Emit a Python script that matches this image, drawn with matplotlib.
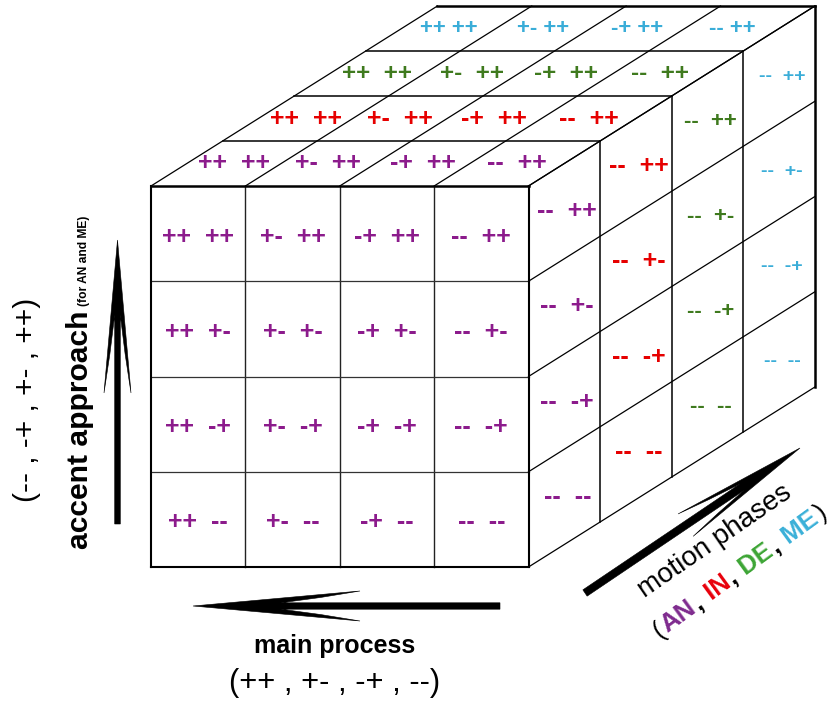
import numpy as np
import matplotlib
matplotlib.use("Agg")
import matplotlib.pyplot as plt
from matplotlib.patches import Polygon
from matplotlib.font_manager import FontProperties, fontManager

# ---------------- data ----------------
main_process = ["++", "+-", "-+", "--"]        # front-face columns, left -> right
accent_approach = ["++", "+-", "-+", "--"]     # rows, top -> bottom
phases = ["AN", "IN", "DE", "ME"]              # depth layers, front -> back
cell_colors = ["#8C1B8C", "#E60000", "#3F7A1E", "#3AADD8"]
label_colors = ["#7E2A8E", "#E8000B", "#3DA535", "#3AB0D8"]
main_ticks = "(++ , +- , -+ , --)"
accent_ticks = "(-- , -+ , +- , ++)"

BASE = ["Liberation Sans", "DejaVu Sans"]
plt.rcParams["font.family"] = BASE
names = {f.name for f in fontManager.ttflist}
NARROW = ["Liberation Sans Narrow", "DejaVu Sans"] if "Liberation Sans Narrow" in names else BASE

W, H = 835, 703
fig = plt.figure(figsize=(W / 100, H / 100), dpi=100)
ax = fig.add_axes([0, 0, 1, 1])
ax.set_xlim(0, W)
ax.set_ylim(H, 0)
ax.axis("off")
renderer = fig.canvas.get_renderer()

# ---------------- cube geometry ----------------
X0, X1, Y0, Y1 = 151.0, 528.5, 186.0, 567.0
DX, DY = 71.6, -45.0
ncol, nrow, nlay = len(main_process), len(accent_approach), len(phases)
cw = (X1 - X0) / ncol
ch = (Y1 - Y0) / nrow


def seg(p, q, lw=1.0, color="black"):
    ax.plot([p[0], q[0]], [p[1], q[1]], color=color, lw=lw,
            solid_capstyle="projecting", zorder=2)


# front face
for j in range(1, ncol):
    seg((X0 + j * cw, Y0), (X0 + j * cw, Y1), lw=1.0, color="#222222")
for i in range(1, nrow):
    seg((X0, Y0 + i * ch), (X1, Y0 + i * ch), lw=0.9, color="#333333")
seg((X0, Y0), (X1, Y0), lw=1.8)
seg((X0, Y1), (X1, Y1), lw=1.5)
seg((X0, Y0), (X0, Y1), lw=1.5)
seg((X1, Y0), (X1, Y1), lw=1.5)

# top face: layer boundaries and column diagonals
for k in range(1, nlay + 1):
    seg((X0 + k * DX, Y0 + k * DY), (X1 + k * DX, Y0 + k * DY), lw=1.8 if k == nlay else 1.1)
for j in range(ncol + 1):
    x = X0 + j * cw
    seg((x, Y0), (x + nlay * DX, Y0 + nlay * DY), lw=0.9)

# right face: layer boundaries and row diagonals
for k in range(1, nlay + 1):
    seg((X1 + k * DX, Y0 + k * DY), (X1 + k * DX, Y1 + k * DY), lw=1.8 if k == nlay else 1.1)
for i in range(nrow + 1):
    y = Y0 + i * ch
    seg((X1, y), (X1 + nlay * DX, y + nlay * DY), lw=0.9)


def cell_label(x, y, a, b, color, size, sep):
    ax.text(x, y, a + sep + b, color=color, fontsize=size, fontweight="bold",
            ha="center", va="center", zorder=3)


# front face labels (first phase)
for i, acc in enumerate(accent_approach):
    for j, m in enumerate(main_process):
        cell_label(X0 + (j + 0.5) * cw, Y0 + (i + 0.5) * ch + 3, m, acc,
                   cell_colors[0], 18, "  ")

# top face labels (top row of accent approach)
top_sizes = [18, 18, 17.5, 16]
top_seps = ["  ", "  ", "  ", " "]
for k in range(nlay):
    for j, m in enumerate(main_process):
        cell_label(X0 + (j + 0.5) * cw + (k + 0.5) * DX, Y0 + (k + 0.5) * DY,
                   m, accent_approach[0], cell_colors[k], top_sizes[k], top_seps[k])

# right face labels (last column of main process)
right_sizes = [18, 18, 16, 14]
for k in range(nlay):
    for i, acc in enumerate(accent_approach):
        cell_label(X1 + (k + 0.5) * DX + 3, Y0 + (i + 0.5) * ch + (k + 0.5) * DY,
                   main_process[-1], acc, cell_colors[k], right_sizes[k], "  ")


# ---------------- arrows ----------------
def arrow(tail, tip, shaft_hw, head_len, head_hw, notch):
    tail = np.asarray(tail, float)
    tip = np.asarray(tip, float)
    d = tip - tail
    length = np.hypot(*d)
    u = d / length
    nv = np.array([-u[1], u[0]])
    half = [(0, 0), (0.5 * head_len, 0.5 * head_hw), (head_len, head_hw),
            (0.5 * (head_len + notch), shaft_hw + 0.45 * (head_hw - shaft_hw)),
            (notch, shaft_hw), (length, shaft_hw)]
    pts = [(s, t) for s, t in half] + [(s, -t) for s, t in reversed(half[1:])]
    poly = [tip - s * u + t * nv for s, t in pts]
    ax.add_patch(Polygon(poly, closed=True, facecolor="black", edgecolor="black",
                         lw=0.4, zorder=3))


arrow((117.5, 524), (117.5, 240), 2.8, 153, 13.5, 75)      # accent approach
arrow((500, 606), (193, 606), 3.2, 167, 15, 88)            # main process
arrow((585, 593), (800, 448), 3.8, 138, 13.5, 70)          # motion phases


def twidth(s, fp):
    w, h, d = renderer.get_text_width_height_descent(s, fp, ismath=False)
    return w


def fit_size(s, family, weight, target):
    fp = FontProperties(family=family, weight=weight, size=20)
    return 20 * target / twidth(s, fp)


# ---------------- axis texts ----------------
ax.text(335, 653, "main process", fontsize=18, fontweight="bold",
        ha="center", va="baseline")
ax.text(335, 691, main_ticks, fontsize=fit_size(main_ticks, BASE, "normal", 212),
        ha="center", va="baseline")

# left vertical texts
s_main = "accent approach"
s_small = "(for AN and ME)"
sz_main = fit_size(s_main, NARROW, "bold", 238)
sz_small = fit_size(s_small, NARROW, "bold", 90)
fp_main = FontProperties(family=NARROW, weight="bold", size=sz_main)
ax.text(87.5, 549, s_main, rotation=90, rotation_mode="anchor", ha="left",
        va="baseline", fontproperties=fp_main)
ax.text(87.5, 549 - twidth(s_main, fp_main) - 5, s_small, rotation=90,
        rotation_mode="anchor", ha="left", va="baseline",
        fontproperties=FontProperties(family=NARROW, weight="bold", size=sz_small))
ax.text(35.5, 400, accent_ticks, rotation=90, rotation_mode="anchor",
        ha="center", va="baseline",
        fontsize=fit_size(accent_ticks, BASE, "normal", 205))


# diagonal texts
def pieces(x, y, angle, parts, pad=1.5):
    c, s_ = np.cos(np.radians(angle)), np.sin(np.radians(angle))
    for txt, color, weight, size in parts:
        fp = FontProperties(family=BASE, weight=weight, size=size)
        ax.text(x, y, txt, rotation=angle, rotation_mode="anchor", ha="left",
                va="baseline", color=color, fontproperties=fp)
        w = twidth(txt, fp) + pad
        x += w * c
        y -= w * s_


ang1 = 34.5
ax.text(645, 598, "motion phases", rotation=ang1, rotation_mode="anchor",
        ha="left", va="baseline",
        fontsize=fit_size("motion phases", BASE, "normal", 180))

psz = 18.5
parts = [("(", "black", "normal", psz)]
for idx, (ph, col) in enumerate(zip(phases, label_colors)):
    parts.append(((" " if idx else "") + ph, col, "bold", psz))
    parts.append((")" if idx == nlay - 1 else ",", "black", "normal" if idx == nlay - 1 else "bold", psz))
pieces(659, 639, 36, parts)

fig.savefig("out.png", dpi=100, facecolor="white")
